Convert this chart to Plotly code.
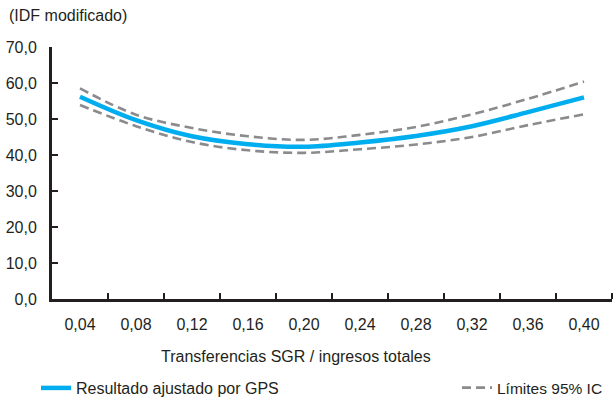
import plotly.graph_objects as go

# Data
x_vals = [0.04, 0.08, 0.12, 0.16, 0.20, 0.24, 0.28, 0.32, 0.36, 0.40]
x_labels = ["0,04", "0,08", "0,12", "0,16", "0,20", "0,24", "0,28", "0,32", "0,36", "0,40"]
fitted = [56.2, 49.7, 45.2, 43.0, 42.3, 43.5, 45.3, 48.0, 51.9, 56.0]
upper = [58.5, 51.2, 47.5, 45.2, 44.2, 45.6, 47.8, 51.3, 55.6, 60.4]
lower = [53.9, 48.0, 43.6, 41.3, 40.6, 41.6, 42.9, 45.0, 48.3, 51.3]
x_bounds = [0.06, 0.10, 0.14, 0.18, 0.22, 0.26, 0.30, 0.34, 0.38, 0.42]
y_ticks = [0, 10, 20, 30, 40, 50, 60, 70]
y_labels = ["0,0", "10,0", "20,0", "30,0", "40,0", "50,0", "60,0", "70,0"]

FONT = "Liberation Sans, Arial, Helvetica, sans-serif"
INK = "#231f20"
BLUE = "#00aeef"
GRAY = "#8b8b8e"
FS = 16

fig = go.Figure()
fig.add_trace(go.Scatter(
    x=x_vals, y=upper, mode="lines", line=dict(color=GRAY, width=2.6, dash="9px,5px", shape="spline"),
    name="Límites 95% IC", legend="legend2", showlegend=True))
fig.add_trace(go.Scatter(
    x=x_vals, y=lower, mode="lines", line=dict(color=GRAY, width=2.6, dash="9px,5px", shape="spline"),
    name="Límites 95% IC", legend="legend2", showlegend=False))
fig.add_trace(go.Scatter(
    x=x_vals, y=fitted, mode="lines", line=dict(color=BLUE, width=4.5, shape="spline"),
    name="Resultado ajustado por GPS", legend="legend", showlegend=True))

fig.update_layout(
    width=613, height=402,
    margin=dict(l=52, r=1, t=47, b=103),
    paper_bgcolor="white", plot_bgcolor="white",
    font=dict(family=FONT, size=FS, color=INK),
    xaxis=dict(
        range=[0.02, 0.42], showgrid=False, zeroline=False,
        showline=True, linecolor=INK, linewidth=3,
        tickmode="array", tickvals=x_vals, ticktext=x_labels, ticks="",
        ticklabelstandoff=9,
        minor=dict(tickmode="array", tickvals=x_bounds, ticks="inside", ticklen=6,
                   tickwidth=2, tickcolor=INK, showgrid=False),
        tickfont=dict(family=FONT, size=FS, color=INK),
    ),
    yaxis=dict(
        range=[0, 70], showgrid=False, zeroline=False,
        showline=True, linecolor=INK, linewidth=3,
        tickmode="array", tickvals=y_ticks, ticktext=y_labels,
        ticks="inside", ticklen=6, tickwidth=2, tickcolor=INK,
        ticklabelstandoff=9,
        tickfont=dict(family=FONT, size=FS, color=INK),
    ),
    legend=dict(
        xref="container", yref="container", x=36 / 613, y=14 / 402,
        xanchor="left", yanchor="middle", orientation="h",
        font=dict(family=FONT, size=FS, color=INK), bgcolor="rgba(0,0,0,0)",
    ),
    legend2=dict(
        xref="container", yref="container", x=457 / 613, y=14 / 402,
        xanchor="left", yanchor="middle", orientation="h",
        font=dict(family=FONT, size=15.5, color=INK), bgcolor="rgba(0,0,0,0)",
    ),
    annotations=[
        dict(text="(IDF modificado)", xref="paper", yref="paper",
             x=-45 / 560, y=1 + 32 / 252, xanchor="left", yanchor="middle",
             showarrow=False, font=dict(family=FONT, size=FS, color=INK)),
        dict(text="Transferencias SGR / ingresos totales", xref="paper", yref="paper",
             x=(295.5 - 52) / 560, y=-57 / 252, xanchor="center", yanchor="middle",
             showarrow=False, font=dict(family=FONT, size=FS, color=INK)),
    ],
)

fig.write_html("out.html")
